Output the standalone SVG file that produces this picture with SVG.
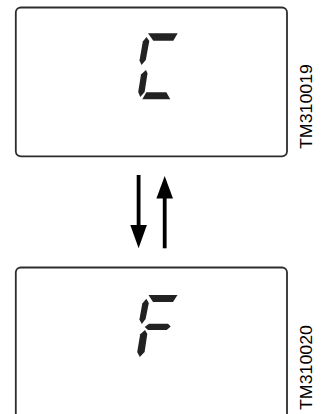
<svg xmlns="http://www.w3.org/2000/svg" width="331" height="414" viewBox="0 0 331 414">
  <style>
    .box { fill: #ffffff; stroke: #2d2d2d; stroke-width: 1.8; }
    .seg { fill: #222222; }
    .shaft { stroke: #000000; stroke-width: 3.8; fill: none; }
    .head { fill: #000000; }
    .code { font-family: "Liberation Sans", Arial, sans-serif; font-size: 16px; fill: #000000; }
  </style>
  <rect x="0" y="0" width="331" height="414" fill="#ffffff"/>

  <g id="display-c">
    <rect class="box" x="15.8" y="7.5" width="271.2" height="148.8" rx="5" ry="5"/>
    <polygon class="seg" points="148,33.3 177.7,33.3 173.3,40.7 153.3,40.7"/>
    <polygon class="seg" points="146.5,37 149.3,41 145.8,60 141.5,65 139.5,60.5 142.8,41.5"/>
    <polygon class="seg" points="146,70 147.5,73.5 144.6,92 140.3,97 138.2,92 141,74.5"/>
    <polygon class="seg" points="146.3,92.3 166.3,92.3 170.3,99.3 142.3,99.3"/>
  </g>

  <g id="display-f">
    <rect class="box" x="15.8" y="267.5" width="271.2" height="170" rx="5" ry="5"/>
    <polygon class="seg" points="148.5,295 177.5,295 173,302 153,302"/>
    <polygon class="seg" points="146.3,298.8 148.8,303 145.6,319 141.8,324 139.4,319.5 142.3,303.5"/>
    <polygon class="seg" points="144.7,327 149,323.7 168,323.7 170.7,326.5 166.7,330 148,330"/>
    <polygon class="seg" points="145,330 147.3,334 144.6,352 139.8,357 137.2,352 140.2,334.2"/>
  </g>

  <g id="label-tm310019">
    <text class="code" transform="translate(311.5,149) rotate(-90)" x="0" y="0" textLength="85" lengthAdjust="spacingAndGlyphs">TM310019</text>
  </g>
  <g id="label-tm310020">
    <text class="code" transform="translate(311.5,410) rotate(-90)" x="0" y="0" textLength="85" lengthAdjust="spacingAndGlyphs">TM310020</text>
  </g>

  <g id="connectors">
    <line class="shaft" x1="138.6" y1="175" x2="138.6" y2="227"/>
    <polygon class="head" points="130.3,225 146.9,225 138.6,248.3"/>
    <line class="shaft" x1="164.7" y1="197" x2="164.7" y2="248.3"/>
    <polygon class="head" points="156.4,198.5 173,198.5 164.7,176"/>
  </g>
</svg>
